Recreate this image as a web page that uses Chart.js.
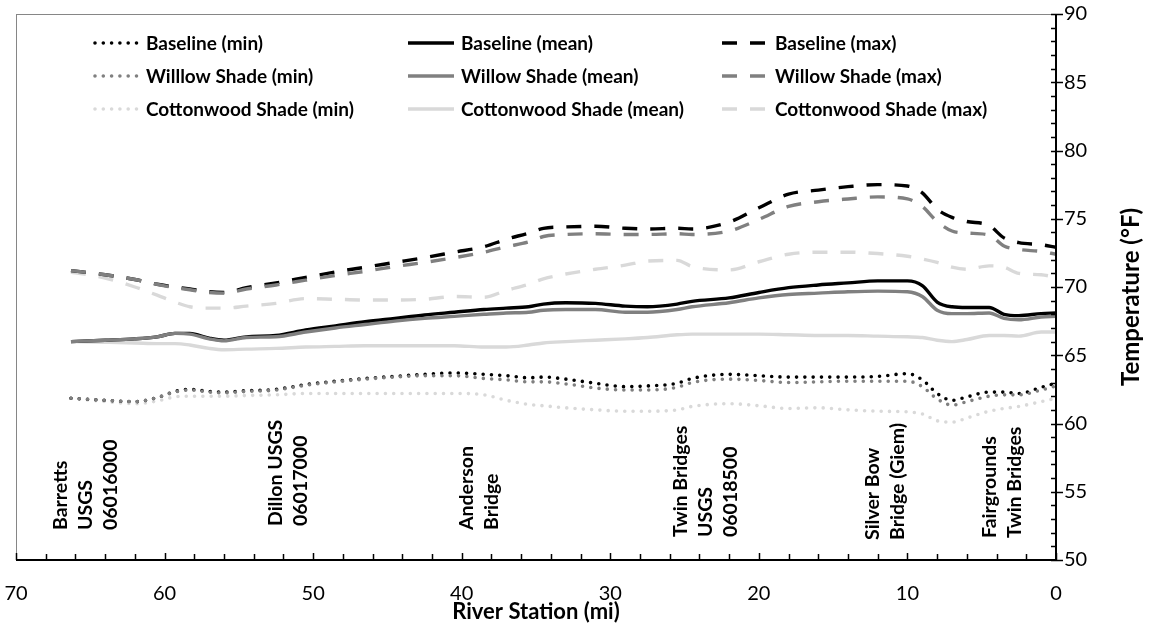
<!DOCTYPE html>
<html>
<head>
<meta charset="utf-8">
<script src="https://cdn.jsdelivr.net/npm/chart.js@4.4.1/dist/chart.umd.min.js"></script>
<style>
  html, body { margin: 0; padding: 0; background: #fff; }
  #wrap { width: 1162px; height: 636px; position: relative; }
</style>
</head>
<body>
<div id="wrap"><canvas id="c"></canvas></div>
<script>
// River stations (miles upstream of the mouth)
const stations = [66.3, 64, 62, 60.5, 59.3, 58.3, 57, 56, 54.5, 52.5,
                  50.5, 48.5, 46.5, 44.5, 42.5, 40.5, 38.5, 37, 35.5, 34.5,
                  33, 31, 29, 27.5, 25.5, 24.5, 22, 20, 18, 16,
                  14, 12, 10, 9, 8, 7, 6, 4.5, 3.5, 2.5,
                  1, 0];

// Simulated water temperature, °F
const baselineMin = [61.85, 61.7, 61.6, 61.9, 62.35, 62.5, 62.35, 62.3, 62.4, 62.5,
                     62.85, 63.1, 63.3, 63.45, 63.6, 63.7, 63.6, 63.5, 63.35, 63.4,
                     63.25, 62.95, 62.7, 62.75, 62.95, 63.3, 63.6, 63.5, 63.4, 63.4,
                     63.4, 63.45, 63.65, 63.2, 62.2, 61.7, 61.95, 62.3, 62.3, 62.2,
                     62.65, 62.95];
const baselineMean = [66.0, 66.1, 66.2, 66.35, 66.6, 66.6, 66.25, 66.1, 66.35, 66.45,
                      66.85, 67.15, 67.45, 67.7, 67.95, 68.15, 68.35, 68.45, 68.55, 68.75,
                      68.85, 68.8, 68.6, 68.55, 68.75, 68.95, 69.2, 69.6, 69.95, 70.15,
                      70.3, 70.45, 70.45, 70.1, 68.9, 68.55, 68.5, 68.5, 68.0, 67.9,
                      68.05, 68.1];
const baselineMax = [71.2, 70.9, 70.55, 70.2, 70.0, 69.85, 69.65, 69.6, 69.95, 70.3,
                     70.7, 71.1, 71.45, 71.8, 72.15, 72.55, 72.95, 73.5, 73.95, 74.3,
                     74.4, 74.45, 74.3, 74.25, 74.3, 74.25, 74.75, 75.8, 76.8, 77.1,
                     77.35, 77.5, 77.4, 76.9, 75.7, 75.1, 74.8, 74.5, 73.6, 73.25,
                     73.1, 72.9];
const willowMin = [61.85, 61.7, 61.6, 61.9, 62.3, 62.45, 62.3, 62.25, 62.35, 62.45,
                   62.8, 63.05, 63.25, 63.4, 63.5, 63.5, 63.3, 63.2, 63.05, 63.05,
                   62.9, 62.6, 62.45, 62.45, 62.65, 63.0, 63.25, 63.15, 63.0, 63.05,
                   63.1, 63.1, 63.1, 62.7, 61.8, 61.35, 61.6, 62.0, 62.1, 62.1,
                   62.45, 62.75];
const willowMean = [66.0, 66.1, 66.2, 66.35, 66.6, 66.55, 66.2, 66.05, 66.3, 66.35,
                    66.7, 67.0, 67.25, 67.5, 67.7, 67.85, 68.0, 68.1, 68.15, 68.3,
                    68.35, 68.35, 68.15, 68.15, 68.35, 68.55, 68.85, 69.2, 69.45, 69.55,
                    69.65, 69.7, 69.65, 69.3, 68.3, 68.05, 68.05, 68.1, 67.7, 67.6,
                    67.8, 67.85];
const willowMax = [71.2, 70.9, 70.55, 70.2, 69.95, 69.8, 69.6, 69.55, 69.85, 70.15,
                   70.5, 70.85, 71.15, 71.5, 71.8, 72.15, 72.55, 72.95, 73.3, 73.7,
                   73.85, 73.9, 73.85, 73.85, 73.9, 73.85, 74.1, 74.95, 75.9, 76.25,
                   76.45, 76.6, 76.45, 75.9, 74.8, 74.1, 73.95, 73.8, 73.0, 72.75,
                   72.6, 72.4];
const cottonwoodMin = [61.85, 61.6, 61.45, 61.65, 61.95, 62.0, 62.0, 62.0, 62.05, 62.1,
                       62.2, 62.2, 62.2, 62.2, 62.2, 62.2, 62.1, 61.7, 61.4, 61.3,
                       61.15, 61.0, 60.9, 60.9, 61.0, 61.25, 61.45, 61.3, 61.1, 61.15,
                       61.0, 60.9, 60.85, 60.7, 60.2, 60.1, 60.4, 60.9, 61.1, 61.25,
                       61.6, 61.85];
const cottonwoodMean = [66.0, 65.95, 65.9, 65.85, 65.85, 65.75, 65.5, 65.4, 65.45, 65.5,
                        65.6, 65.65, 65.7, 65.7, 65.7, 65.7, 65.6, 65.6, 65.75, 65.9,
                        66.0, 66.1, 66.2, 66.3, 66.5, 66.55, 66.55, 66.55, 66.5, 66.45,
                        66.45, 66.4, 66.35, 66.3, 66.1, 66.0, 66.15, 66.45, 66.45, 66.4,
                        66.7, 66.7];
const cottonwoodMax = [71.1, 70.65, 70.0, 69.4, 68.9, 68.55, 68.45, 68.45, 68.6, 68.8,
                       69.15, 69.1, 69.05, 69.05, 69.1, 69.3, 69.25, 69.75, 70.2, 70.6,
                       70.95, 71.3, 71.6, 71.9, 71.95, 71.5, 71.25, 71.85, 72.4, 72.55,
                       72.55, 72.45, 72.25, 72.05, 71.8, 71.45, 71.3, 71.55, 71.45, 71.0,
                       70.9, 70.7];

// Landmarks along the river
const siteNames = [['Barretts', 'USGS', '06016000'],
                   ['Dillon USGS', '06017000'],
                   ['Anderson', 'Bridge'],
                   ['Twin Bridges', 'USGS', '06018500'],
                   ['Silver Bow', 'Bridge (Giem)'],
                   ['Fairgrounds', 'Twin Bridges']];
const siteMiles = [65.3, 51.7, 38.8, 23.6, 11.5, 3.6];

// Axis ranges and labels
const xRange = [0, 70];
const yRange = [50, 90];
const xTitle = 'River Station (mi)';
const yTitle = 'Temperature (°F)';

const FONT = 'Lato';
Chart.defaults.font.family = FONT;
Chart.defaults.color = '#000';

const BLACK = '#000000', GRAY = '#808080', LIGHT = '#d9d9d9';
const DOT = [0, 8.3], DASH = [15, 13];

function pts(vals) { return stations.map((m, i) => ({ x: m, y: vals[i] })); }
function series(label, vals, color, kind, order) {
  return {
    label, data: pts(vals), borderColor: color, backgroundColor: color,
    borderWidth: kind === 'min' ? 3.6 : 3.4,
    borderDash: kind === 'min' ? DOT : (kind === 'max' ? DASH : []),
    borderCapStyle: kind === 'min' ? 'round' : 'butt',
    borderJoinStyle: 'round',
    pointRadius: 0, pointHoverRadius: 0,
    tension: 0.4, cubicInterpolationMode: 'monotone',
    fill: false, order
  };
}

const datasets = [
  series('Baseline (min)', baselineMin, BLACK, 'min', 1),
  series('Baseline (mean)', baselineMean, BLACK, 'mean', 1),
  series('Baseline (max)', baselineMax, BLACK, 'max', 1),
  series('Willlow Shade (min)', willowMin, GRAY, 'min', 0),
  series('Willow Shade (mean)', willowMean, GRAY, 'mean', 0),
  series('Willow Shade (max)', willowMax, GRAY, 'max', 0),
  series('Cottonwood Shade (min)', cottonwoodMin, LIGHT, 'min', 2),
  series('Cottonwood Shade (mean)', cottonwoodMean, LIGHT, 'mean', 2),
  series('Cottonwood Shade (max)', cottonwoodMax, LIGHT, 'max', 2)
];

// Frame, axis lines and Excel-style tick marks
const framePlugin = {
  id: 'frame',
  beforeDatasetsDraw(chart) {
    const { ctx, chartArea: a } = chart;
    ctx.save();
    ctx.strokeStyle = '#868686';
    ctx.lineWidth = 1;
    ctx.strokeRect(a.left + 0.5, a.top + 0.5, a.right - a.left, a.bottom - a.top);
    ctx.restore();
  },
  afterDatasetsDraw(chart) {
    const { ctx, chartArea: a, scales: { x, y } } = chart;
    ctx.save();
    ctx.strokeStyle = '#000';
    ctx.lineWidth = 2;
    ctx.beginPath();
    ctx.moveTo(a.left, a.bottom); ctx.lineTo(a.right + 1, a.bottom);
    ctx.moveTo(a.right, a.top); ctx.lineTo(a.right, a.bottom + 1);
    ctx.stroke();
    ctx.lineWidth = 1.5;
    ctx.beginPath();
    for (let v = xRange[0]; v <= xRange[1]; v += 2) {
      const px = Math.round(x.getPixelForValue(v)) + 0.5;
      const len = v % 10 === 0 ? 7 : 6;
      ctx.moveTo(px, a.bottom); ctx.lineTo(px, a.bottom - len);
    }
    for (let v = yRange[0]; v <= yRange[1]; v += 1) {
      const py = Math.round(y.getPixelForValue(v)) + 0.5;
      if (v % 5 === 0) { ctx.moveTo(a.right - 5, py); ctx.lineTo(a.right + 7, py); }
      else { ctx.moveTo(a.right - 5, py); ctx.lineTo(a.right, py); }
    }
    ctx.stroke();
    ctx.restore();
  }
};

// Landmark names set vertically above the axis
const sitePlugin = {
  id: 'sites',
  afterDatasetsDraw(chart, args, opts) {
    const { ctx, chartArea: a, scales: { x } } = chart;
    ctx.save();
    ctx.fillStyle = '#000';
    ctx.font = `bold ${opts.size}px ${FONT}`;
    ctx.textAlign = 'left';
    ctx.textBaseline = 'middle';
    siteNames.forEach((lines, k) => {
      const cx = x.getPixelForValue(siteMiles[k]);
      const n = lines.length;
      lines.forEach((txt, i) => {
        const lx = cx + (i - (n - 1) / 2) * opts.spacing;
        ctx.save();
        ctx.translate(lx, a.bottom - opts.lift[k]);
        ctx.rotate(-Math.PI / 2);
        ctx.fillText(txt, 0, 0);
        ctx.restore();
      });
    });
    ctx.restore();
  }
};

// Three-column legend inside the plot
const legendPlugin = {
  id: 'gridLegend',
  afterDraw(chart, args, opts) {
    const { ctx } = chart;
    ctx.save();
    ctx.font = `bold ${opts.size}px ${FONT}`;
    ctx.textBaseline = 'middle';
    ctx.fillStyle = '#000';
    chart.data.datasets.forEach((ds, i) => {
      const col = i % 3, row = Math.floor(i / 3);
      const x0 = opts.cols[col], yy = opts.rows[row];
      ctx.save();
      ctx.strokeStyle = ds.borderColor;
      ctx.lineWidth = ds.borderWidth;
      ctx.lineCap = ds.borderCapStyle;
      ctx.setLineDash(ds.borderDash);
      ctx.beginPath();
      ctx.moveTo(x0 + (ds.borderCapStyle === 'round' ? 2 : 0), yy);
      ctx.lineTo(x0 + opts.sample, yy);
      ctx.stroke();
      ctx.restore();
      ctx.fillText(ds.label, x0 + opts.sample + opts.gap, yy + 1);
    });
    ctx.restore();
  }
};

// Vertical title on the right, reading upward
const yTitlePlugin = {
  id: 'yTitle',
  afterDraw(chart, args, opts) {
    const { ctx, chartArea: a } = chart;
    ctx.save();
    ctx.font = `bold ${opts.size}px ${FONT}`;
    ctx.fillStyle = '#000';
    ctx.textAlign = 'center';
    ctx.textBaseline = 'middle';
    ctx.translate(opts.x, (a.top + a.bottom) / 2 + opts.dy);
    ctx.rotate(-Math.PI / 2);
    ctx.fillText(yTitle, 0, 0);
    ctx.restore();
  }
};

new Chart(document.getElementById('c'), {
  type: 'line',
  data: { datasets },
  plugins: [framePlugin, sitePlugin, legendPlugin, yTitlePlugin],
  options: {
    responsive: true,
    maintainAspectRatio: false,
    animation: false,
    events: [],
    layout: { padding: { left: 16, top: 14, right: 0, bottom: 0 } },
    scales: {
      x: {
        type: 'linear', reverse: true, min: xRange[0], max: xRange[1],
        grid: { display: false, drawTicks: false }, border: { display: false },
        ticks: { stepSize: 10, padding: 22, font: { size: 20 }, color: '#000', maxRotation: 0 },
        title: { display: true, text: xTitle, font: { size: 22, weight: 'bold' }, color: '#000', padding: { top: 0, bottom: 11 } },
        afterFit(s) { s.height = 76; s.paddingLeft = 0; s.paddingRight = 0; }
      },
      y: {
        type: 'linear', position: 'right', min: yRange[0], max: yRange[1],
        grid: { display: false, drawTicks: false }, border: { display: false },
        ticks: { stepSize: 5, padding: 8, font: { size: 20 }, color: '#000' },
        afterFit(s) { s.width = 106; s.paddingTop = 0; s.paddingBottom = 0; }
      }
    },
    plugins: {
      legend: { display: false },
      tooltip: { enabled: false },
      sites: { size: 19.5, spacing: 25, lift: [30, 34, 30, 23, 20, 22] },
      gridLegend: { size: 19, cols: [93, 408, 722], rows: [43, 76, 109], sample: 46, gap: 7 },
      yTitle: { size: 24, x: 1131, dy: 10 }
    }
  }
});
</script>
</body>
</html>
